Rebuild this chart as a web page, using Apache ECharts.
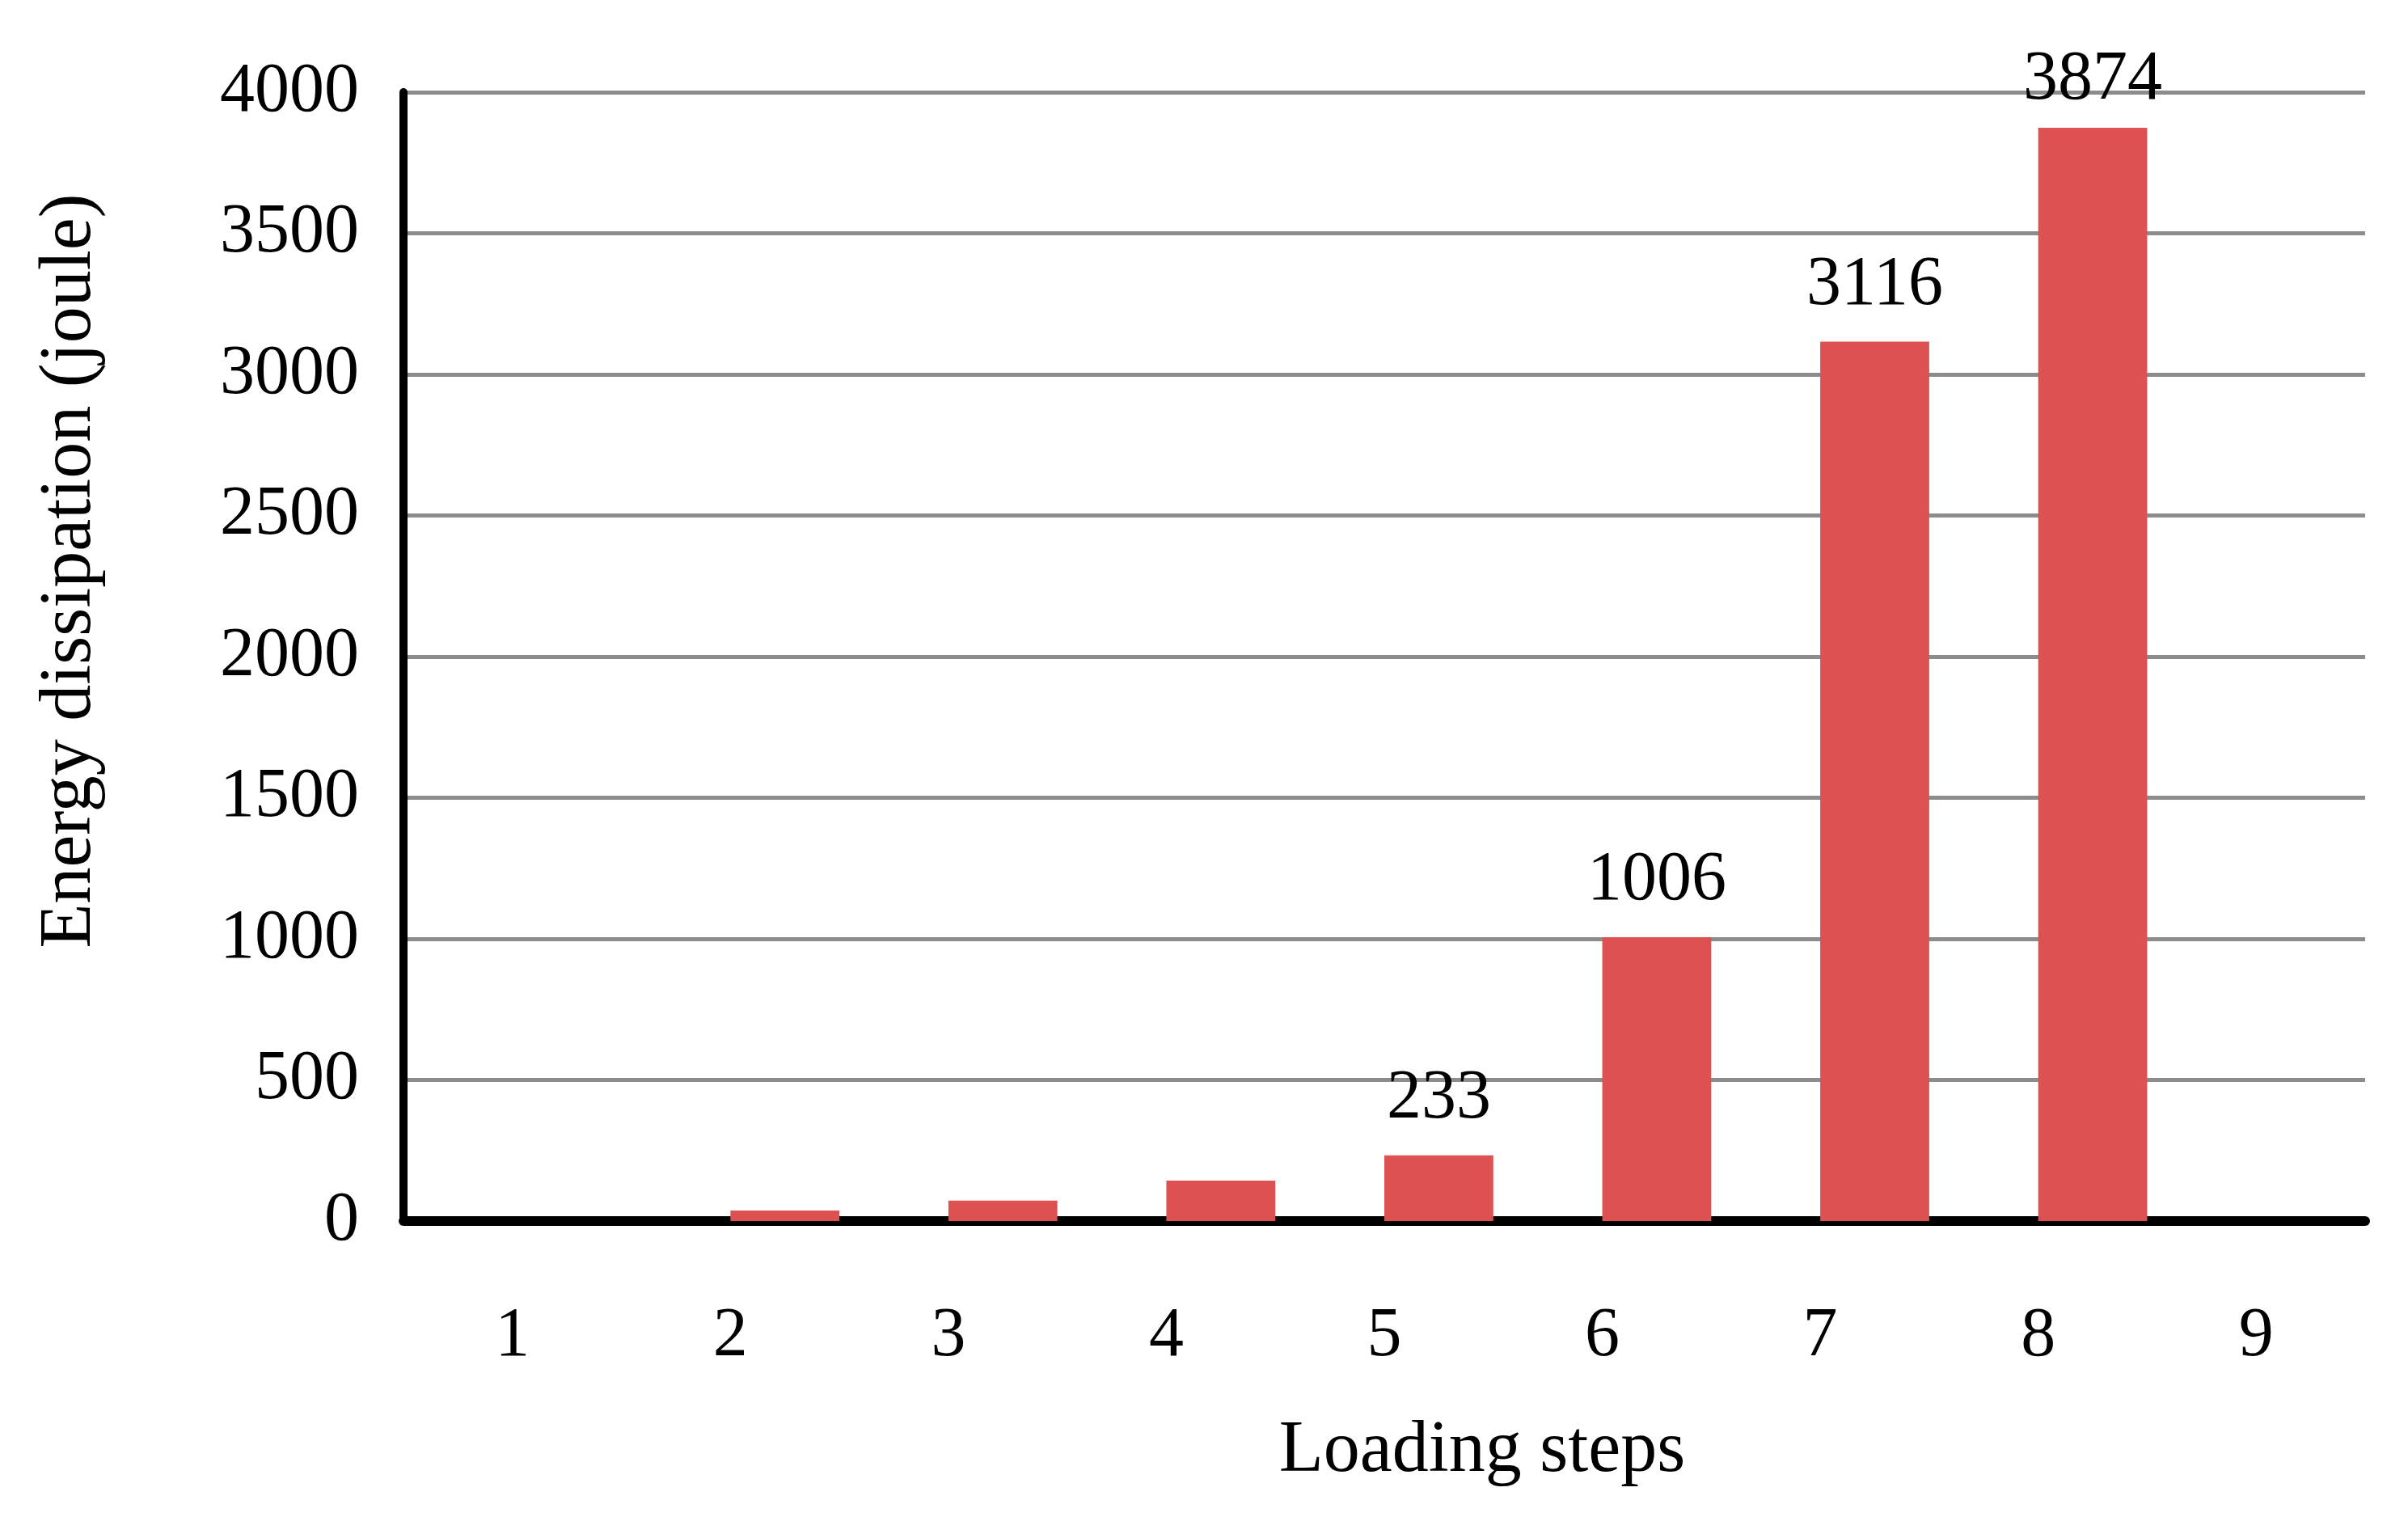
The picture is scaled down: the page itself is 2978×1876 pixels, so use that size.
<!DOCTYPE html>
<html>
<head>
<meta charset="utf-8">
<script src="https://cdn.jsdelivr.net/npm/echarts@6/dist/echarts.min.js"></script>
<style>
  html, body { margin: 0; padding: 0; background: #fff; }
  #main { width: 2978px; height: 1876px; }
</style>
</head>
<body>
<div id="main"></div>
<script>
// 数据
const steps = ['1', '2', '3', '4', '5', '6', '7', '8', '9']
const energy = [0, 37, 72, 143, 233, 1006, 3116, 3874, 0]
const yTicks = { min: 0, max: 4000, interval: 500 }

const serif = '"Liberation Serif", "DejaVu Serif", serif'
const barColor = '#dd5150'

let chart = echarts.init(document.getElementById('main'))

// 值标签只显示在大于 200 的柱子上
const barData = energy.map((v, i) => ({
  value: v,
  label: { distance: i === 7 ? 16 : 26 }
}))

const option = {
  backgroundColor: '#fff',
  animation: false,
  grid: { left: 499, right: 53, top: 114, bottom: 366 },
  xAxis: {
    type: 'category',
    data: steps,
    axisTick: { show: false },
    axisLine: { lineStyle: { color: '#000', width: 12 } },
    axisLabel: { margin: 100, fontFamily: serif, fontSize: 86, color: '#000' }
  },
  yAxis: {
    type: 'value',
    min: yTicks.min,
    max: yTicks.max,
    interval: yTicks.interval,
    axisLine: { show: true, lineStyle: { color: '#000', width: 10 } },
    axisTick: { show: false },
    axisLabel: {
      margin: 55,
      fontFamily: serif,
      fontSize: 86,
      color: '#000',
      formatter: v => String(v)
    },
    splitLine: { lineStyle: { color: '#8c8c8c', width: 5 } }
  },
  series: [
    {
      // 占位系列，让柱子落在刻度标签右侧
      type: 'bar',
      data: steps.map(() => '-'),
      barWidth: '50%',
      barGap: '0%'
    },
    {
      type: 'bar',
      data: barData,
      barWidth: '50%',
      barGap: '0%',
      itemStyle: { color: barColor },
      label: {
        show: true,
        position: 'top',
        fontFamily: serif,
        fontSize: 86,
        color: '#000',
        formatter: p => (p.value >= 200 ? p.value : '')
      }
    }
  ],
  graphic: [
    {
      type: 'text',
      x: 87,
      y: 706,
      rotation: Math.PI / 2,
      style: {
        text: 'Energy dissipation (joule)',
        font: '90px ' + serif,
        fill: '#000',
        textAlign: 'center',
        textVerticalAlign: 'middle'
      }
    },
    {
      type: 'text',
      x: 1833,
      y: 1795,
      style: {
        text: 'Loading steps',
        font: '90px ' + serif,
        fill: '#000',
        textAlign: 'center',
        textVerticalAlign: 'middle'
      }
    }
  ]
}

chart.setOption(option)
</script>
</body>
</html>
